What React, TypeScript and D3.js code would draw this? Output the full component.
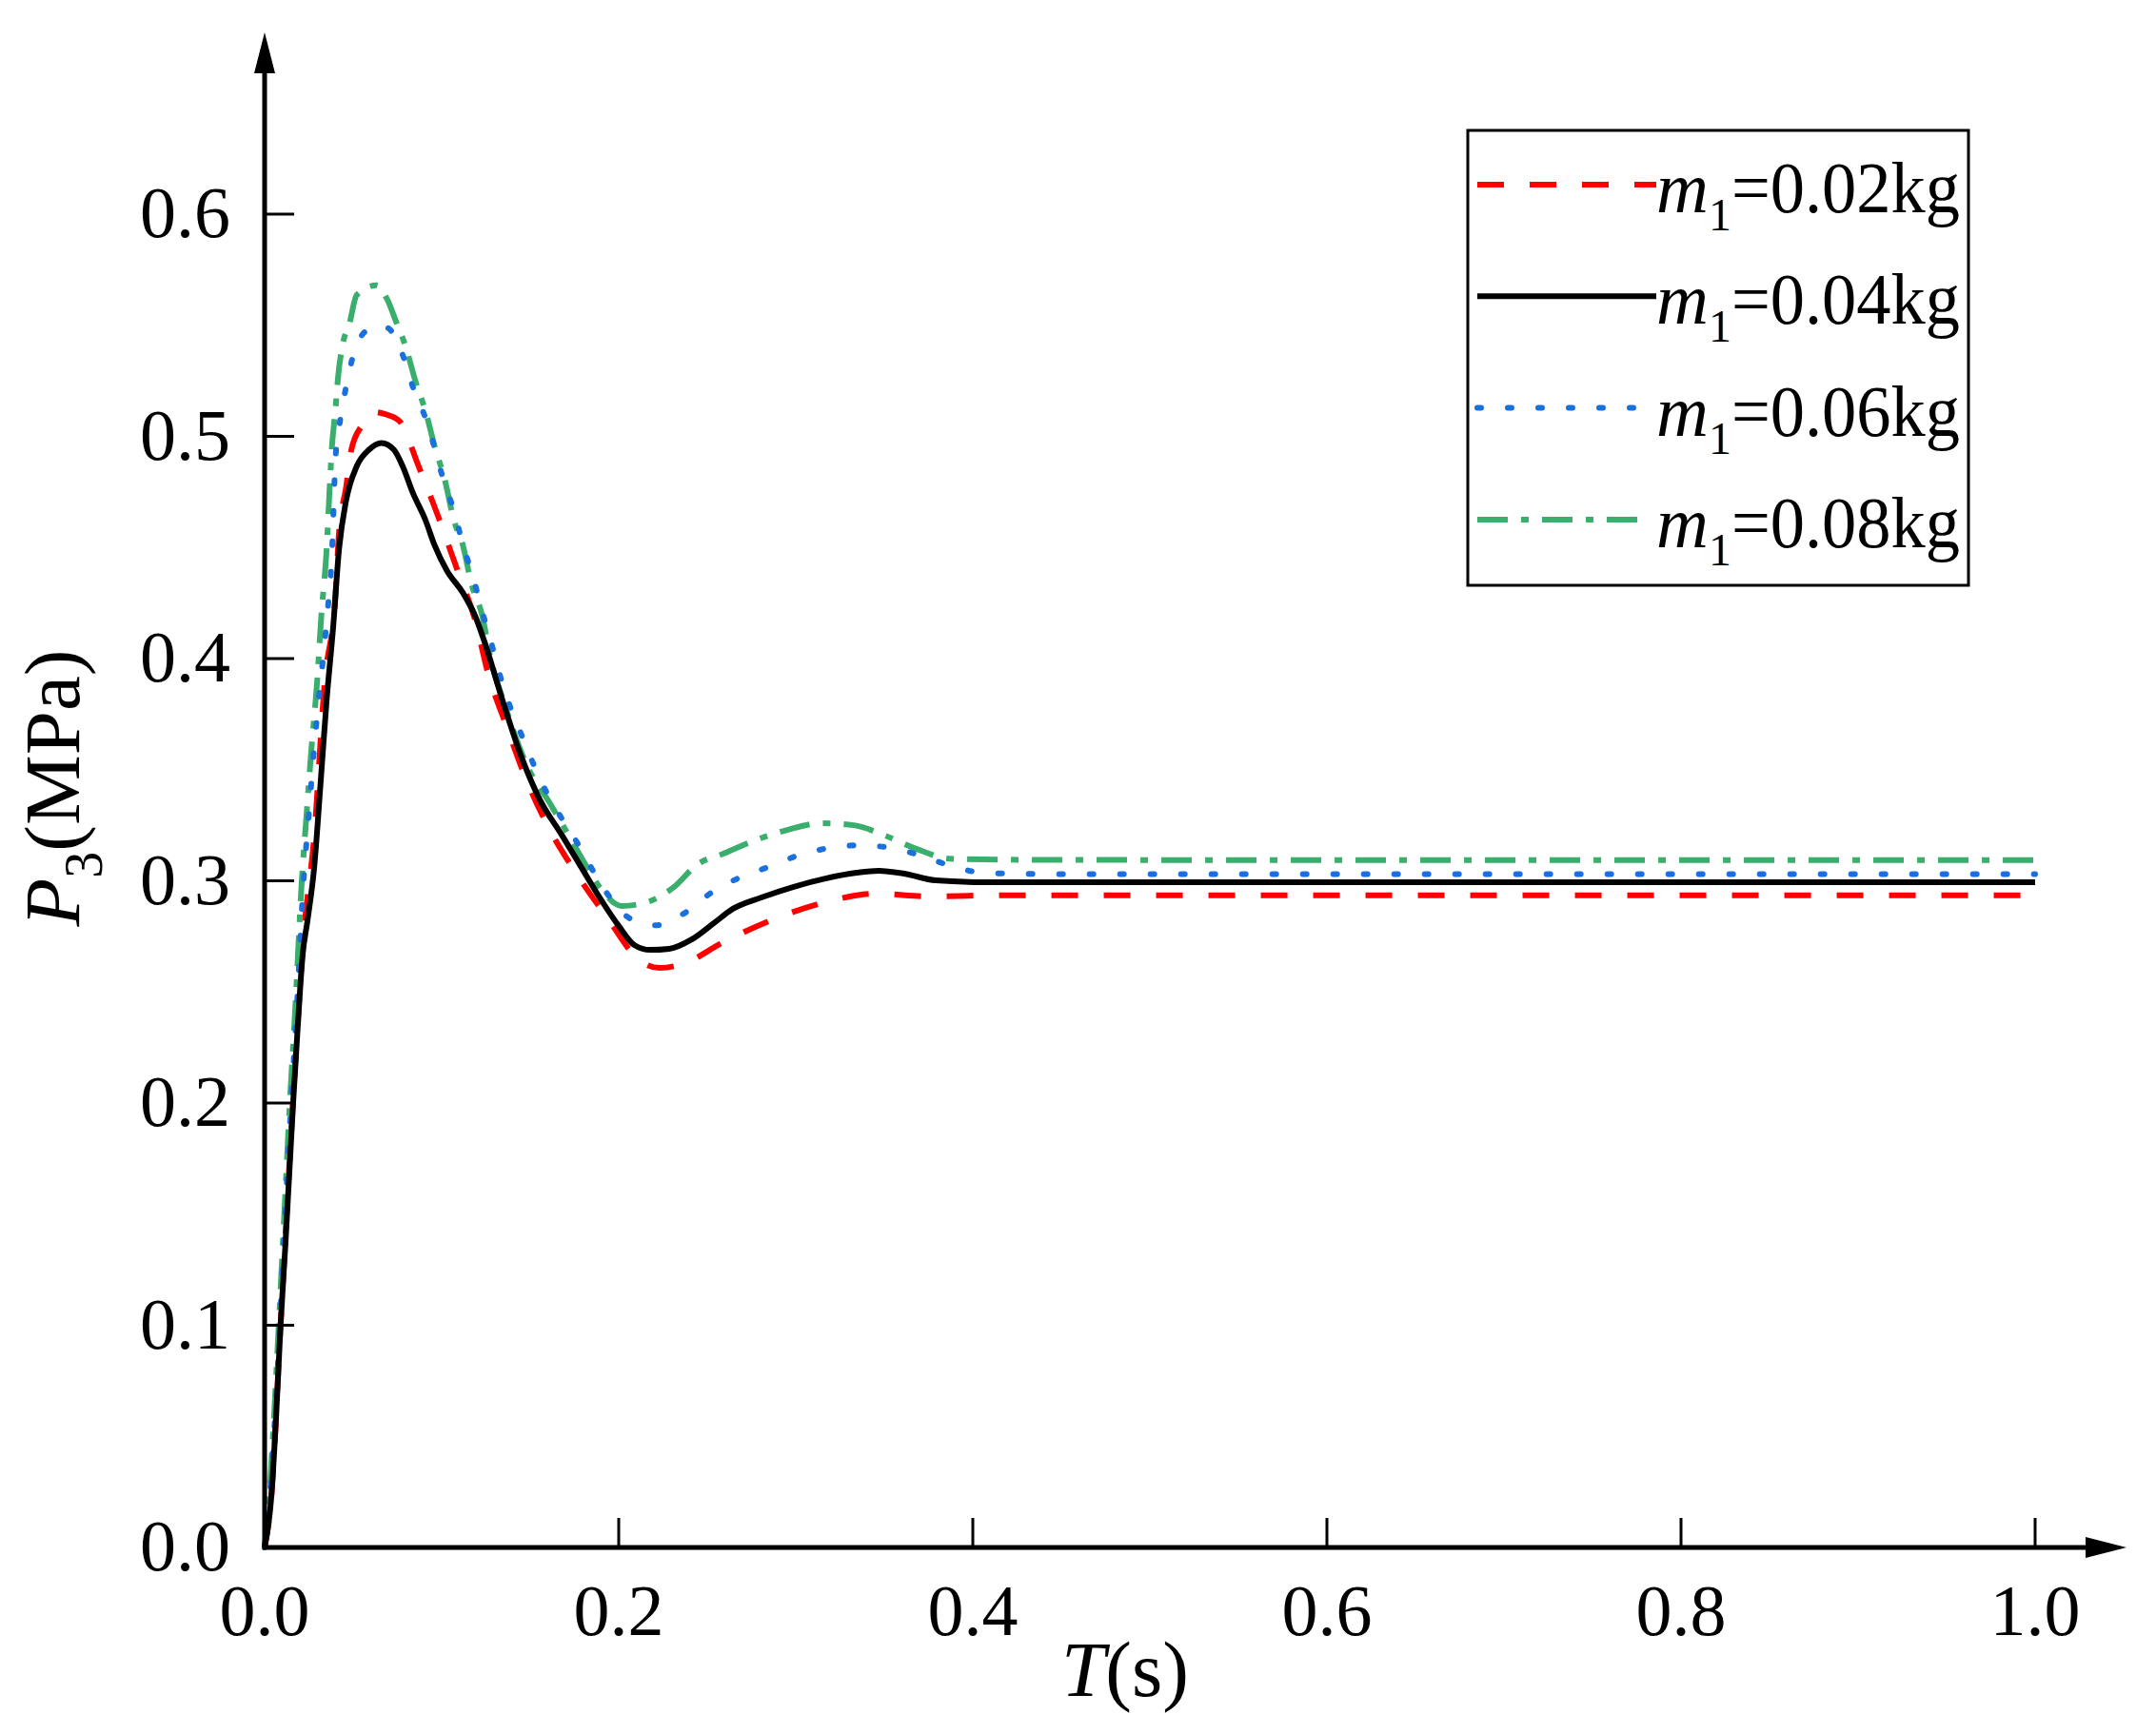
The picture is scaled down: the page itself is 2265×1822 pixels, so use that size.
import React, { useRef, useEffect } from "react";
import * as d3 from "d3";

const WIDTH = 2265;
const HEIGHT = 1822;

// values: time (s) and pressure P3 (MPa)
const tM002 = [0, 0.004, 0.009, 0.016, 0.022, 0.028, 0.034, 0.04, 0.042, 0.046, 0.049, 0.055, 0.061, 0.068, 0.076, 0.087, 0.098, 0.109, 0.119, 0.126, 0.1366, 0.1473, 0.1597, 0.1758, 0.193, 0.2124, 0.2231, 0.236, 0.2591, 0.286, 0.3167, 0.3452, 0.3758, 0.406, 0.45, 0.7, 1.0];
const pM002 = [0, 0.025, 0.1, 0.2, 0.275, 0.32, 0.39, 0.428, 0.4565, 0.477, 0.494, 0.505, 0.511, 0.51, 0.507, 0.4865, 0.464, 0.4395, 0.417, 0.394, 0.3696, 0.3465, 0.325, 0.3036, 0.284, 0.2638, 0.2608, 0.2625, 0.2724, 0.2822, 0.2904, 0.2942, 0.293, 0.2934, 0.2935, 0.2935, 0.2935];

const tM004 = [0, 0.0038, 0.0065, 0.009, 0.0118, 0.0161, 0.0188, 0.0215, 0.0242, 0.028, 0.0317, 0.035, 0.0387, 0.042, 0.046, 0.052, 0.059, 0.066, 0.073, 0.078, 0.0835, 0.091, 0.096, 0.103, 0.112, 0.119, 0.124, 0.1339, 0.1446, 0.1554, 0.1677, 0.1785, 0.1892, 0.2, 0.209, 0.2177, 0.2285, 0.2414, 0.2538, 0.2645, 0.2806, 0.2984, 0.3167, 0.3344, 0.3468, 0.3613, 0.379, 0.406, 0.45, 0.7, 1.0];
const pM004 = [0, 0.023, 0.059, 0.1, 0.137, 0.2, 0.2355, 0.2668, 0.282, 0.306, 0.345, 0.381, 0.414, 0.449, 0.471, 0.4865, 0.494, 0.497, 0.494, 0.4865, 0.475, 0.462, 0.451, 0.4395, 0.4296, 0.419, 0.408, 0.3824, 0.3567, 0.3366, 0.3208, 0.3066, 0.2925, 0.2797, 0.271, 0.2689, 0.2694, 0.2737, 0.281, 0.2874, 0.2925, 0.2972, 0.301, 0.3036, 0.3045, 0.3032, 0.3002, 0.2994, 0.2994, 0.2994, 0.2994];

const tM006 = [0, 0.004, 0.008, 0.011, 0.015, 0.018, 0.022, 0.025, 0.028, 0.031, 0.033, 0.035, 0.038, 0.04, 0.042, 0.045, 0.048, 0.052, 0.058, 0.064, 0.07, 0.078, 0.084, 0.091, 0.1016, 0.1075, 0.112, 0.1177, 0.122, 0.1274, 0.132, 0.1376, 0.1446, 0.1516, 0.1591, 0.1688, 0.1774, 0.1855, 0.1946, 0.2065, 0.2215, 0.2366, 0.2522, 0.266, 0.2844, 0.301, 0.3183, 0.336, 0.3543, 0.371, 0.388, 0.406, 0.424, 0.46, 0.7, 1.0];
const pM006 = [0, 0.035, 0.09, 0.14, 0.2, 0.24, 0.3, 0.33, 0.36, 0.385, 0.4, 0.417, 0.447, 0.4895, 0.5035, 0.518, 0.53, 0.541, 0.548, 0.55, 0.5486, 0.5366, 0.5216, 0.508, 0.479, 0.465, 0.451, 0.437, 0.4236, 0.409, 0.395, 0.3807, 0.3666, 0.353, 0.34, 0.3268, 0.316, 0.3045, 0.293, 0.283, 0.28, 0.2852, 0.2946, 0.3006, 0.3062, 0.3113, 0.3147, 0.316, 0.3147, 0.3113, 0.3066, 0.3036, 0.3032, 0.303, 0.303, 0.303];

const tM008 = [0, 0.0038, 0.0075, 0.0108, 0.0145, 0.0172, 0.021, 0.0237, 0.0263, 0.0296, 0.032, 0.035, 0.037, 0.038, 0.04, 0.0414, 0.044, 0.048, 0.052, 0.0634, 0.069, 0.0747, 0.079, 0.0855, 0.091, 0.0962, 0.1016, 0.107, 0.112, 0.1167, 0.123, 0.1274, 0.1355, 0.1478, 0.1608, 0.1715, 0.1801, 0.1892, 0.2016, 0.2161, 0.2306, 0.2446, 0.2591, 0.2769, 0.2952, 0.3145, 0.3328, 0.3505, 0.3683, 0.3866, 0.406, 0.45, 0.7, 1.0];
const pM008 = [0, 0.038, 0.0925, 0.145, 0.204, 0.241, 0.3, 0.33, 0.358, 0.389, 0.419, 0.449, 0.481, 0.495, 0.512, 0.526, 0.541, 0.551, 0.5636, 0.568, 0.562, 0.5507, 0.542, 0.524, 0.511, 0.495, 0.481, 0.462, 0.451, 0.434, 0.419, 0.401, 0.3795, 0.3525, 0.3353, 0.3208, 0.3088, 0.2972, 0.2887, 0.2904, 0.2968, 0.3075, 0.3122, 0.3182, 0.3229, 0.3259, 0.325, 0.3203, 0.3143, 0.31, 0.3096, 0.3094, 0.3093, 0.3093];

const seriesNames = ["0.02kg", "0.04kg", "0.06kg", "0.08kg"];
const xTicks = [0, 0.2, 0.4, 0.6, 0.8, 1.0];
const yTicks = [0, 0.1, 0.2, 0.3, 0.4, 0.5, 0.6];

const seriesStyles = [
  { color: "#ff0000", dash: "28,27", cap: "butt" },
  { color: "#000000", dash: "none", cap: "butt" },
  { color: "#1a70dc", dash: "4,28", cap: "round" },
  { color: "#3aae6c", dash: "32,14,8,14", cap: "butt" },
];

const FONT = "'Liberation Serif', 'Times New Roman', serif";

function drawChart(svgElement: SVGSVGElement) {
  const x0 = 278;
  const y0 = 1626;
  const xScale = d3.scaleLinear().domain([0, 1]).range([x0, 2138]);
  const yScale = d3.scaleLinear().domain([0, 0.6]).range([y0, 225]);

  const svg = d3.select(svgElement);
  svg.selectAll("*").remove();

  svg.append("rect").attr("width", WIDTH).attr("height", HEIGHT).attr("fill", "#ffffff");

  const allT = [tM002, tM004, tM006, tM008];
  const allP = [pM002, pM004, pM006, pM008];

  const line = d3
    .line<[number, number]>()
    .x((d) => xScale(d[0]))
    .y((d) => yScale(d[1]))
    .curve(d3.curveMonotoneX);

  // draw curves, black on top like in the figure
  const order = [0, 3, 2, 1];
  for (const i of order) {
    const pts: [number, number][] = allT[i].map((t, k) => [t, allP[i][k]]);
    svg
      .append("path")
      .attr("d", line(pts))
      .attr("fill", "none")
      .attr("stroke", seriesStyles[i].color)
      .attr("stroke-width", 6)
      .attr("stroke-dasharray", seriesStyles[i].dash)
      .attr("stroke-linecap", seriesStyles[i].cap)
      .attr("stroke-linejoin", "round");
  }

  // axes with arrow heads
  const axis = svg.append("g").attr("stroke", "#000");
  axis.append("line").attr("x1", x0).attr("y1", y0 + 2).attr("x2", x0).attr("y2", 70).attr("stroke-width", 5);
  axis.append("line").attr("x1", x0 - 2).attr("y1", y0).attr("x2", 2195).attr("y2", y0).attr("stroke-width", 5);
  svg.append("path").attr("d", `M${x0},34L${x0 - 11},77L${x0 + 11},77Z`).attr("fill", "#000");
  svg.append("path").attr("d", `M2234,${y0}L2191,${y0 - 11}L2191,${y0 + 11}Z`).attr("fill", "#000");

  // y ticks (inside)
  svg
    .selectAll(".ytick")
    .data(yTicks.filter((d) => d > 0))
    .enter()
    .append("line")
    .attr("x1", x0)
    .attr("x2", x0 + 31)
    .attr("y1", (d) => yScale(d))
    .attr("y2", (d) => yScale(d))
    .attr("stroke", "#000")
    .attr("stroke-width", 3);

  svg
    .selectAll(".ylabel")
    .data(yTicks)
    .enter()
    .append("text")
    .attr("x", 242)
    .attr("y", (d) => yScale(d) + 24)
    .attr("text-anchor", "end")
    .attr("font-family", FONT)
    .attr("font-size", 76)
    .text((d) => d.toFixed(1));

  // x ticks (inside)
  svg
    .selectAll(".xtick")
    .data(xTicks.filter((d) => d > 0))
    .enter()
    .append("line")
    .attr("x1", (d) => xScale(d))
    .attr("x2", (d) => xScale(d))
    .attr("y1", y0)
    .attr("y2", y0 - 31)
    .attr("stroke", "#000")
    .attr("stroke-width", 3);

  svg
    .selectAll(".xlabel")
    .data(xTicks)
    .enter()
    .append("text")
    .attr("x", (d) => xScale(d))
    .attr("y", 1718)
    .attr("text-anchor", "middle")
    .attr("font-family", FONT)
    .attr("font-size", 76)
    .text((d) => d.toFixed(1));

  // axis titles
  const xTitle = svg
    .append("text")
    .attr("x", 1182)
    .attr("y", 1782)
    .attr("text-anchor", "middle")
    .attr("font-family", FONT)
    .attr("font-size", 83);
  xTitle.append("tspan").attr("font-style", "italic").text("T");
  xTitle.append("tspan").text("(s)");

  const yTitle = svg
    .append("text")
    .attr("transform", "translate(83,828) rotate(-90)")
    .attr("text-anchor", "middle")
    .attr("font-family", FONT)
    .attr("font-size", 83);
  yTitle.append("tspan").attr("font-style", "italic").text("P");
  yTitle.append("tspan").attr("font-size", 56).attr("dy", 24).text("3");
  yTitle.append("tspan").attr("dy", -24).text("(MPa)");

  // legend
  const legend = svg.append("g");
  legend
    .append("rect")
    .attr("x", 1542)
    .attr("y", 137)
    .attr("width", 526)
    .attr("height", 478)
    .attr("fill", "#fff")
    .attr("stroke", "#000")
    .attr("stroke-width", 3);

  seriesNames.forEach((name, i) => {
    const cy = 194 + i * 117.3;
    const st = seriesStyles[i];
    legend
      .append("line")
      .attr("x1", 1552)
      .attr("x2", i < 2 ? 1740 : 1730)
      .attr("y1", cy)
      .attr("y2", cy)
      .attr("stroke", st.color)
      .attr("stroke-width", 6)
      .attr("stroke-dasharray", st.dash)
      .attr("stroke-linecap", st.cap);
    const txt = legend
      .append("text")
      .attr("x", 1740)
      .attr("y", cy + 29)
      .attr("font-family", FONT)
      .attr("font-size", 76);
    txt.append("tspan").attr("font-style", "italic").text("m");
    txt.append("tspan").attr("font-size", 48).attr("dy", 19).text("1");
    txt
      .append("tspan")
      .attr("dy", -19)
      .attr("textLength", 240)
      .attr("lengthAdjust", "spacingAndGlyphs")
      .text("=" + name);
  });
}

const App: React.FunctionComponent = function () {
  const svgRef = useRef<SVGSVGElement>(null);

  useEffect(() => {
    if (svgRef.current == null) {
      return;
    }
    drawChart(svgRef.current);
  }, []);

  return (
    <svg
      ref={svgRef}
      width={WIDTH}
      height={HEIGHT}
      style={{ position: "absolute", left: 0, top: 0, display: "block" }}
    ></svg>
  );
};

export default App;
